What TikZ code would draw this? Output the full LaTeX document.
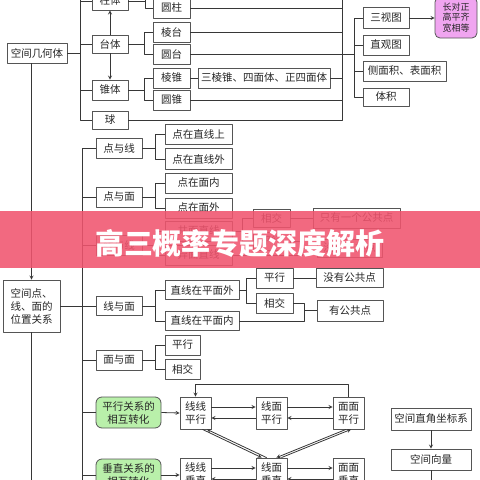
\documentclass[tikz,border=0pt]{standalone}
\usepackage{fontspec}
\setmainfont{Noto Sans CJK SC}
\usetikzlibrary{calc}
\definecolor{linegray}{RGB}{55,55,55}
\definecolor{boxgray}{RGB}{85,85,85}
\definecolor{pinkbox}{RGB}{240,165,240}
\definecolor{greenbox}{RGB}{185,240,170}
\definecolor{banner}{RGB}{240,84,110}
\begin{document}
\begin{tikzpicture}[x=1pt,y=-1pt,>=stealth,font=\fontsize{10.5}{13}\selectfont,line join=round,
	box/.style={draw=boxgray,line width=.8pt,minimum height=20,inner sep=1pt,align=center,fill=white,text=black!85},
	gbox/.style={box,rounded corners=6pt,fill=greenbox,minimum width=65,minimum height=31},
	sbox/.style={box,minimum width=31,minimum height=32},
	conn/.style={draw=linegray,line width=.8pt}]
	\useasboundingbox (0,0) rectangle (480,480);
	\clip (0,0) rectangle (480,480);
	% 空间几何体
	\node[box,minimum width=60] (kjjht) at (37,53) {空间几何体};
	\node[box,minimum width=36,minimum height=18] (zhuti) at (110,1) {柱体};
	\node[box,minimum width=37] (yuanzhu) at (171.5,8) {圆柱};
	\node[box,minimum width=36,minimum height=18] (taiti) at (110,44) {台体};
	\node[box,minimum width=37] (lengtai) at (171.5,32) {棱台};
	\node[box,minimum width=37] (yuantai) at (171.5,54) {圆台};
	\node[box,minimum width=36] (zhuiti) at (110,90) {锥体};
	\node[box,minimum width=37] (lengzhui) at (171.5,78) {棱锥};
	\node[box,minimum width=37] (yuanzhui) at (171.5,100) {圆锥};
	\node[box,minimum width=132] (sanleng) at (264,78) {三棱锥、四面体、正四面体};
	\node[box,minimum width=36,minimum height=18] (qiu) at (110,120) {球};
	\node[box,minimum width=46,minimum height=21] (sanshi) at (386,18) {三视图};
	\node[box,minimum width=46] (zhiguan) at (386,45) {直观图};
	\node[box,minimum width=83] (cemian) at (404.5,71) {侧面积、表面积};
	\node[box,minimum width=46,minimum height=18] (tiji) at (386,97) {体积};
	\node[box,rounded corners=5pt,fill=pinkbox,minimum width=42,minimum height=41,font=\fontsize{9}{10.5}\selectfont] (changdui) at (456,17.5) {长对正\\高平齐\\宽相等};
	\coordinate (topA) at (80,-10);
	\coordinate (topB) at (145,-10);
	\coordinate (topC) at (342,-10);
	\draw[conn] (topA) |- (qiu.west);
	\foreach \n in {kjjht} \draw[conn] (\n.east) -- (\n.east -| topA);
	\foreach \n in {zhuti,taiti,zhuiti} \draw[conn] (\n.west) -- (\n.west -| topA);
	\draw[conn] (topB) |- (yuanzhu.west);
	\draw[conn] (zhuti.east) -- (zhuti.east -| topB);
	\draw[conn] (lengtai.west) -- ++(-8.5,0) coordinate (k1) |- (yuantai.west);
	\draw[conn] (taiti.east) -- (taiti.east -| k1);
	\draw[conn] (lengzhui.west) -- ++(-8.5,0) coordinate (k2) |- (yuanzhui.west);
	\draw[conn] (zhuiti.east) -- (zhuiti.east -| k2);
	\draw[conn] (lengzhui.east) -- (sanleng.west);
	\draw[conn,->] (taiti.north) -- (zhuti.south);
	\draw[conn,->] (taiti.south) -- (zhuiti.north);
	\draw[conn] (topC) |- (qiu.east);
	\foreach \n in {yuanzhu,lengtai,yuantai,sanleng,yuanzhui} \draw[conn] (\n.east) -- (\n.east -| topC);
	\draw[conn] (sanshi.west) -- ++(-8,0) coordinate (k3) |- (tiji.west);
	\foreach \n in {zhiguan,cemian} \draw[conn] (\n.west) -- (\n.west -| k3);
	\draw[conn] (yuantai.east -| topC) -- (yuantai.east -| k3);
	\draw[conn,->] (sanshi.east) -- (sanshi.east -| changdui.west);
	% 空间点、线、面的位置关系
	\node[box,minimum width=57,minimum height=52] (kjd) at (31.5,306) {空间点、\\线、面的\\位置关系};
	\node[box,minimum width=46] (dyx) at (119,148) {点与线};
	\node[box,minimum width=67] (dzx1) at (198.5,134) {点在直线上};
	\node[box,minimum width=67,minimum height=21] (dzx2) at (198.5,159) {点在直线外};
	\node[box,minimum width=46] (dym) at (119,197) {点与面};
	\node[box,minimum width=67] (dzm1) at (198.5,183) {点在面内};
	\node[box,minimum width=67] (dzm2) at (198.5,208) {点在面外};
	\node[box,minimum width=46] (xyx) at (119,245) {线与线};
	\node[box,minimum width=67] (gmzx) at (198.5,231) {共面直线};
	\node[box,minimum width=67] (ymzx) at (198.5,255) {异面直线};
	\node[box,minimum width=37,minimum height=18] (xj1) at (271.5,218) {相交};
	\node[box,minimum width=37,minimum height=18] (px1) at (271.5,241) {平行};
	\node[box,minimum width=87] (zyyg) at (356.5,218) {只有一个公共点};
	\node[box,minimum width=65,minimum height=18] (mygg1) at (349.5,248) {没有公共点};
	\node[box,minimum width=46,minimum height=19] (xym) at (119,306) {线与面};
	\node[box,minimum width=74,minimum height=19] (zxwai) at (202,290) {直线在平面外};
	\node[box,minimum width=74,minimum height=19] (zxnei) at (202,321) {直线在平面内};
	\node[box,minimum width=37] (px2) at (274.5,278) {平行};
	\node[box,minimum width=37] (xj2) at (274.5,303) {相交};
	\node[box,minimum width=67,minimum height=19] (mygg2) at (349.5,278) {没有公共点};
	\node[box,minimum width=66,minimum height=21] (ygg) at (350,310.5) {有公共点};
	\node[box,minimum width=46] (mym) at (119,360) {面与面};
	\node[box,minimum width=35] (px3) at (182.5,345) {平行};
	\node[box,minimum width=35] (xj3) at (182.5,369) {相交};
	\draw[conn,->] (kjd.north |- kjjht.south) -- (kjd.north);
	\coordinate (botA) at (31.5,490);
	\coordinate (botB) at (82,490);
	\draw[conn] (kjd.south) -- (botA);
	\draw[conn] (botB) |- (dyx.west);
	\foreach \n in {dym,xyx,xym,mym} \draw[conn] (\n.west) -- (\n.west -| botB);
	\draw[conn] (kjd.east) -- (kjd.east -| botB);
	\foreach \p/\a/\b in {dyx/dzx1/dzx2,dym/dzm1/dzm2,xyx/gmzx/ymzx,xym/zxwai/zxnei,mym/px3/xj3}{
		\draw[conn] (\a.west) -- ++(-9,0) coordinate (kk) |- (\b.west);
		\draw[conn] (\p.east) -- (\p.east -| kk);
	}
	\draw[conn] (xj1.west) -- ++(-10,0) coordinate (k4) |- (px1.west);
	\draw[conn] (gmzx.east) -- (gmzx.east -| k4);
	\draw[conn] (xj1.east) -- (zyyg.west);
	\draw[conn] (px1.east) -- ++(12,0) coordinate (k5) |- (ymzx.east);
	\draw[conn] (k5 |- mygg1.west) -- (mygg1.west);
	\draw[conn] (px2.west) -- ++(-9,0) coordinate (k6) |- (xj2.west);
	\draw[conn] (zxwai.east) -- (zxwai.east -| k6);
	\draw[conn] (px2.east) -- (mygg2.west);
	\draw[conn] (xj2.east) -- ++(11,0) coordinate (k7) |- (zxnei.east);
	\draw[conn] (k7 |- ygg.west) -- (ygg.west);
	% 相互转化
	\node[gbox] (pxzh) at (128.5,412.5) {平行关系的\\相互转化};
	\node[gbox,minimum height=32] (czzh) at (128.5,475) {垂直关系的\\相互转化};
	\node[sbox] (xxpx) at (195.5,413) {线线\\平行};
	\node[sbox] (xmpx) at (271.5,413) {线面\\平行};
	\node[sbox] (mmpx) at (348.5,413) {面面\\平行};
	\node[sbox] (xxcz) at (195.5,474) {线线\\垂直};
	\node[sbox] (xmcz) at (271.5,474) {线面\\垂直};
	\node[sbox] (mmcz) at (348.5,474) {面面\\垂直};
	\foreach \n in {pxzh,czzh} \draw[conn] (\n.west) -- (\n.west -| botB);
	\draw[conn,->] (pxzh.east) -- (xxpx.west);
	\draw[conn,->] (czzh.east) -- (czzh.east -| xxcz.west);
	\foreach \a/\b in {xxpx/xmpx,xmpx/mmpx,xxcz/xmcz,xmcz/mmcz}{
		\draw[conn,->] ([yshift=6pt]\a.east) -- ([yshift=6pt]\b.west);
		\draw[conn,->] ([yshift=-5pt]\b.west) -- ([yshift=-5pt]\a.east);
	}
	\draw[conn,->] (mmpx.north) -- ++(0,-12) -| (xxpx.north);
	\draw[conn,->] ($(xxpx.south)+(7,0)$) -- ($(xmcz.north west)+(6,0)$);
	\draw[conn,->] ($(xmcz.north west)+(11,0)$) -- ($(xxpx.south)+(11.5,0)$);
	\draw[conn,->] ($(mmpx.south)+(-2.5,0)$) -- ($(xmcz.north east)+(-11,0)$);
	\draw[conn,->] ($(xmcz.north east)+(-6,0)$) -- ($(mmpx.south)+(2.5,0)$);
	% 空间向量
	\node[box,minimum width=80,minimum height=22] (zjzb) at (431,419) {空间直角坐标系};
	\node[box,minimum width=80,minimum height=21] (kjxl) at (431,459.5) {空间向量};
	\coordinate (botC) at (431,490);
	\draw[conn,->] (zjzb.south) -- (kjxl.north);
	\draw[conn] (kjxl.south) -- (botC);
	% 横幅
	\fill[banner,fill opacity=.88] (0,211) rectangle (480,268);
	\node[text=white,font=\fontsize{29}{30}\selectfont\bfseries] (title) at (240,243) {高三概率专题深度解析};
\end{tikzpicture}
\end{document}
